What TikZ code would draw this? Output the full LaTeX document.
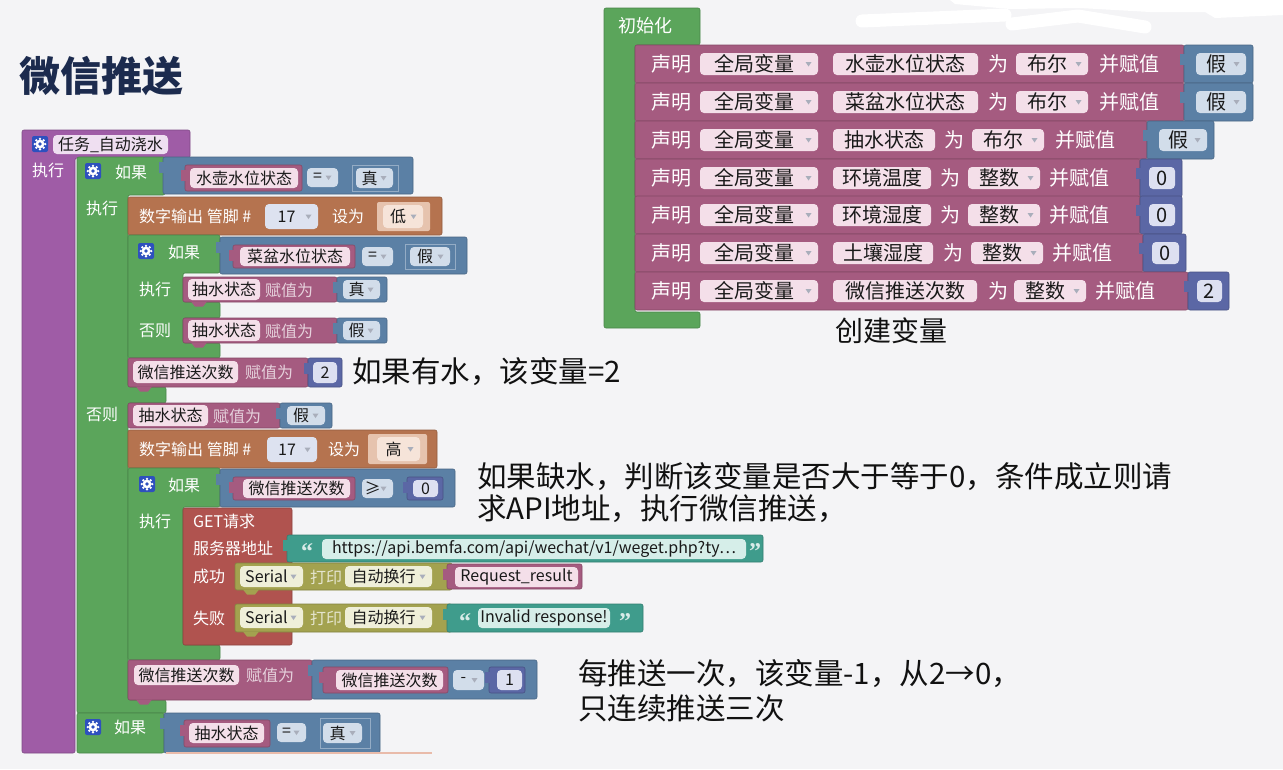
\documentclass[tikz,border=0pt]{standalone}
\usepackage{fontspec}
\setmainfont{Noto Sans CJK SC}
\newfontfamily\quotefont{Liberation Serif}
\usetikzlibrary{calc}

\definecolor{bgcol}{HTML}{F4F4F6}
\definecolor{cpurple}{HTML}{9F5CA6}
\definecolor{cgreen}{HTML}{5BA55B}
\definecolor{cblue}{HTML}{5B80A5}
\definecolor{cpink}{HTML}{A55B80}
\definecolor{cbrown}{HTML}{B5734F}
\definecolor{cget}{HTML}{B0534F}
\definecolor{cteal}{HTML}{3F9C8C}
\definecolor{colive}{HTML}{A3A24F}
\definecolor{cnum}{HTML}{5B67A5}
\definecolor{cgear}{HTML}{2E50BE}
\definecolor{ctitle}{HTML}{1C2B4E}
\definecolor{fpink}{HTML}{F4DFE9}
\definecolor{fblue}{HTML}{D2DDEA}
\definecolor{fbrown}{HTML}{F6E4D9}
\definecolor{sbrown}{HTML}{E6C3AE}
\definecolor{fnum}{HTML}{DDE0F1}
\definecolor{folive}{HTML}{EFEFD9}
\definecolor{fteal}{HTML}{D6EEE9}
\definecolor{fpurple}{HTML}{EFDFF1}
\definecolor{fpin}{HTML}{DDE2F0}
\definecolor{arrowcol}{HTML}{A9AEBB}
\definecolor{notecol}{HTML}{111111}
\definecolor{salmonline}{HTML}{E9BBAA}

\newcommand{\blockfont}{\fontsize{16}{18}\selectfont}
\newcommand{\fieldfont}{\fontsize{16}{18}\selectfont}
\newcounter{lbl}

% white label on a block
\newcommand{\blocklabel}[4][wlab]{\stepcounter{lbl}\node[#1] (t\arabic{lbl}) at (#2,#3) {#4};}
% editable field: x1 y1 x2 y2 fill text
\newcommand{\plainfield}[6]{%
  \path[fld=#5] (#1,#2) rectangle (#3,#4);
  \stepcounter{lbl}\node[flab] (t\arabic{lbl}) at ($(#1,#2)!0.5!(#3,#4)$) {#6};}
% dropdown field with its small triangle
\newcommand{\dropfield}[6]{%
  \path[fld=#5] (#1,#2) rectangle (#3,#4);
  \stepcounter{lbl}\node[flab] (t\arabic{lbl}) at ($(#1,#2)!0.5!(#3,#4)+(-5,0)$) {#6};
  \fill[arrowcol] ($(#3,#2)!0.5!(#3,#4)+(-12.5,-2)$) -- ++(6,0) -- ++(-3,4.5) -- cycle;}
% gear badge of a mutator block
\newcommand{\gearicon}[2]{%
  \fill[cgear, rounded corners=2pt] ($(#1,#2)+(-8,-8)$) rectangle ($(#1,#2)+(8,8)$);
  \fill[white] (#1,#2) circle (4.4pt);
  \foreach \a in {0,45,...,315} \fill[white] ($(#1,#2)+(\a:5.2pt)$) circle (1.3pt);
  \fill[cgear] (#1,#2) circle (1.8pt);}
% output tab on the left edge of a value block
\newcommand{\intab}[3]{\fill[#3] ($(#1,#2)+(-4,5)$) rectangle ($(#1,#2)+(1,16)$);}
% next-statement notch below a statement block
\newcommand{\notchat}[3]{\fill[#3] ($(#1,#2)+(8,-0.5)$) -- ++(4,5) -- ++(8,0) -- ++(4,-5) -- cycle;}
% one "declare global variable" row
\newcommand{\declrow}[9]{%
  \path[blk=cpink] (635,#1) rectangle (#2,#1+38);
  \blocklabel{651}{#1+19}{声明}
  \dropfield{700}{#1+8}{818}{#1+30}{fpink}{全局变量}
  \plainfield{833}{#1+8}{#4}{#1+30}{fpink}{#3}
  \blocklabel{#5}{#1+19}{为}
  \dropfield{#7}{#1+8}{#8}{#1+30}{fpink}{#6}
  \blocklabel{#9}{#1+19}{并赋值}}
\newcommand{\boolval}[3]{%
  \path[blk=cblue] (#2,#1) rectangle (#3,#1+38);
  \intab{#2}{#1+4}{cblue}
  \dropfield{#2+12}{#1+8}{#3-7}{#1+30}{fblue}{假}}
\newcommand{\numval}[4]{%
  \path[blk=cnum] (#2,#1) rectangle (#3,#1+38);
  \intab{#2}{#1+4}{cnum}
  \plainfield{#2+9}{#1+8}{#3-7}{#1+30}{fnum}{#4}}

\begin{document}
\begin{tikzpicture}[x=1pt,y=-1pt,
  blk/.style={fill=#1, draw=#1!80!black, line width=0.6pt, rounded corners=2pt},
  fld/.style={fill=#1, rounded corners=4pt},
  wlab/.style={text=white, inner sep=0pt, anchor=west, font=\blockfont},
  flab/.style={text=black!90, inner sep=0pt, font=\fieldfont},
  pale/.style={text=white!72!#1, inner sep=0pt, anchor=west, font=\blockfont},
  note/.style={text=notecol, inner sep=0pt, anchor=west, font=\fontsize{29.5}{32}\selectfont},
  quotemark/.style={text=white!80!cteal, inner sep=0pt, font=\quotefont\bfseries\fontsize{24}{24}\selectfont}]
\useasboundingbox (0,0) rectangle (1283,769);
\fill[bgcol] (0,0) rectangle (1283,769);

% white marker strokes along the top edge
\fill[white] (950,0) -- (1283,0) -- (1283,15) -- (1215,18) -- (1205,12) -- (1150,12) -- (1080,8) -- (1010,9) -- (955,4) -- cycle;
\draw[white, line width=13pt, line cap=round, line join=round] (862,21) -- (1005,15);
\draw[white, line width=13pt, line cap=round, line join=round] (1012,24) -- (1078,16) -- (1145,27);

% title
\node[anchor=west, inner sep=0pt, text=ctitle, font=\fontsize{41}{44}\selectfont\bfseries] (title) at (19,76) {微信推送};

% ---------------- task block ----------------
\path[blk=cpurple] (22,130) -- (190,130) -- (190,158) -- (75,158) -- (75,753) -- (22,753) -- cycle;
\gearicon{40}{144}
\plainfield{53}{135}{168}{154}{fpurple}{任务\_自动浇水}
\blocklabel{32}{170}{执行}

% outer if / else
\path[blk=cgreen] (77,157) -- (165,157) -- (165,195) -- (128,195) -- (128,387) -- (166,387) -- (166,403) -- (128,403) -- (128,700) -- (166,700) -- (166,713) -- (77,713) -- cycle;
\gearicon{93}{171}
\blocklabel{115}{172}{如果}
\blocklabel{86}{208}{执行}
\blocklabel{86}{414}{否则}

\path[blk=cblue] (163,157) rectangle (413,194);
\intab{163}{157}{cblue}
\path[blk=cpink] (185,165) rectangle (302,191);
\intab{185}{165}{cpink}
\plainfield{190}{168}{298}{188}{fpink}{水壶水位状态}
\dropfield{307}{168}{338}{187}{fblue}{=}
\path[draw=white!35!cblue, line width=0.6pt] (352,165) rectangle (398,191);
\dropfield{356}{168}{393}{188}{fblue}{真}

% digital write, low
\path[blk=cbrown] (128,197) rectangle (442,235);
\blocklabel{139}{216}{数字输出 管脚 \#}
\dropfield{265}{204}{318}{229}{fpin}{17}
\blocklabel{332}{216}{设为}
\path[fill=sbrown, rounded corners=2pt] (377,202) rectangle (430,231);
\dropfield{383}{205}{423}{228}{fbrown}{低}

% inner if / else (pump)
\path[blk=cgreen] (128,235) -- (220,235) -- (220,273) -- (183,273) -- (183,302) -- (220,302) -- (220,318) -- (183,318) -- (183,343) -- (220,343) -- (220,358) -- (128,358) -- cycle;
\gearicon{146}{251}
\blocklabel{168}{252}{如果}
\blocklabel{139}{289}{执行}
\blocklabel{139}{330}{否则}
\path[blk=cblue] (220,237) rectangle (467,274);
\intab{220}{237}{cblue}
\path[blk=cpink] (233,245) rectangle (355,268);
\intab{233}{245}{cpink}
\plainfield{240}{247}{350}{266}{fpink}{菜盆水位状态}
\dropfield{362}{247}{393}{266}{fblue}{=}
\path[draw=white!35!cblue, line width=0.6pt] (405,244) rectangle (455,269);
\dropfield{410}{247}{450}{266}{fblue}{假}

\path[blk=cpink] (183,277) rectangle (337,302);
\plainfield{188}{279}{260}{300}{fpink}{抽水状态}
\blocklabel[pale=cpink]{265}{290}{赋值为}
\path[blk=cblue] (337,277) rectangle (387,302);
\intab{337}{277}{cblue}
\dropfield{343}{280}{380}{299}{fblue}{真}
\notchat{183}{302}{cpink}

\path[blk=cpink] (183,318) rectangle (337,343);
\plainfield{188}{320}{260}{341}{fpink}{抽水状态}
\blocklabel[pale=cpink]{265}{331}{赋值为}
\path[blk=cblue] (337,318) rectangle (387,343);
\intab{337}{318}{cblue}
\dropfield{343}{321}{380}{340}{fblue}{假}
\notchat{183}{343}{cpink}

% push counter := 2
\path[blk=cpink] (128,358) rectangle (308,387);
\plainfield{133}{361}{238}{383}{fpink}{微信推送次数}
\blocklabel[pale=cpink]{245}{372}{赋值为}
\path[blk=cnum] (308,358) rectangle (342,387);
\intab{308}{358}{cnum}
\plainfield{313}{362}{337}{383}{fnum}{2}
\notchat{128}{387}{cpink}

% ---------------- else branch ----------------
\path[blk=cpink] (128,403) rectangle (280,428);
\plainfield{133}{405}{208}{426}{fpink}{抽水状态}
\blocklabel[pale=cpink]{213}{416}{赋值为}
\path[blk=cblue] (280,403) rectangle (332,428);
\intab{280}{403}{cblue}
\dropfield{287}{406}{325}{425}{fblue}{假}

\path[blk=cbrown] (128,430) rectangle (437,468);
\blocklabel{139}{449}{数字输出 管脚 \#}
\dropfield{267}{437}{317}{462}{fpin}{17}
\blocklabel{328}{449}{设为}
\path[fill=sbrown, rounded corners=2pt] (368,434) rectangle (427,464);
\dropfield{377}{437}{420}{461}{fbrown}{高}

% inner if (push count check)
\path[blk=cgreen] (128,468) -- (220,468) -- (220,507) -- (183,507) -- (183,645) -- (220,645) -- (220,660) -- (128,660) -- cycle;
\gearicon{147}{484}
\blocklabel{168}{485}{如果}
\blocklabel{139}{521}{执行}
\path[blk=cblue] (220,469) rectangle (455,507);
\intab{220}{469}{cblue}
\path[blk=cpink] (233,477) rectangle (355,500);
\intab{233}{477}{cpink}
\plainfield{243}{479}{350}{498}{fpink}{微信推送次数}
\dropfield{362}{479}{393}{498}{fblue}{≥}
\path[blk=cnum] (407,477) rectangle (443,500);
\intab{407}{477}{cnum}
\plainfield{413}{480}{438}{497}{fnum}{0}

% GET request
\path[blk=cget] (183,508) rectangle (292,645);
\blocklabel{193}{521}{GET请求}
\blocklabel{193}{548}{服务器地址}
\blocklabel{193}{576}{成功}
\blocklabel{193}{618}{失败}

\path[blk=cteal] (287,535) rectangle (763,562);
\intab{287}{535}{cteal}
\node[quotemark] (q1) at (307,552) {“};
\plainfield{322}{539}{746}{559}{fteal}{https://api.bemfa.com/api/wechat/v1/weget.php?ty…}
\node[quotemark] (q2) at (755,552) {”};

\path[blk=colive] (235,563) rectangle (452,590);
\dropfield{240}{566}{303}{587}{folive}{Serial}
\blocklabel[pale=colive]{310}{577}{打印}
\dropfield{345}{566}{432}{587}{folive}{自动换行}
\path[blk=cpink] (447,564) rectangle (582,589);
\intab{447}{564}{cpink}
\plainfield{455}{567}{578}{587}{fpink}{Request\_result}
\notchat{235}{590}{colive}

\path[blk=colive] (235,604) rectangle (452,632);
\dropfield{240}{607}{303}{628}{folive}{Serial}
\blocklabel[pale=colive]{310}{618}{打印}
\dropfield{345}{607}{432}{628}{folive}{自动换行}
\path[blk=cteal] (447,604) rectangle (643,632);
\intab{447}{604}{cteal}
\node[quotemark] (q3) at (465,622) {“};
\plainfield{478}{608}{610}{628}{fteal}{Invalid response!}
\node[quotemark] (q4) at (625,622) {”};
\notchat{235}{632}{colive}

% push counter := push counter - 1
\path[blk=cpink] (128,660) rectangle (312,700);
\plainfield{134}{665}{239}{685}{fpink}{微信推送次数}
\blocklabel[pale=cpink]{246}{675}{赋值为}
\path[blk=cblue] (312,660) rectangle (537,699);
\intab{312}{660}{cblue}
\path[blk=cpink] (323,667) rectangle (448,693);
\intab{323}{667}{cpink}
\plainfield{336}{670}{443}{690}{fpink}{微信推送次数}
\dropfield{453}{670}{484}{690}{fblue}{-}
\path[blk=cnum] (489,667) rectangle (525,693);
\intab{489}{667}{cnum}
\plainfield{497}{670}{522}{690}{fnum}{1}
\notchat{128}{700}{cpink}

% next if, cut at the bottom
\path[blk=cgreen] (77,713) rectangle (164,753);
\gearicon{93}{727}
\blocklabel{114}{727}{如果}
\path[blk=cblue] (164,713) rectangle (380,753);
\intab{164}{713}{cblue}
\path[blk=cpink] (184,720) rectangle (270,747);
\intab{184}{720}{cpink}
\plainfield{189}{723}{264}{743}{fpink}{抽水状态}
\dropfield{277}{723}{306}{742}{fblue}{=}
\path[draw=white!35!cblue, line width=0.6pt] (320,718) rectangle (370,748);
\dropfield{323}{723}{362}{743}{fblue}{真}
\draw[salmonline, line width=1.5pt] (166,753) -- (432,753);

% ---------------- setup block ----------------
\path[blk=cgreen] (604,8) -- (700,8) -- (700,45) -- (635,45) -- (635,312) -- (700,312) -- (700,328) -- (604,328) -- cycle;
\renewcommand{\blockfont}{\fontsize{18}{20}\selectfont}
\blocklabel{618}{26}{初始化}
\renewcommand{\blockfont}{\fontsize{20}{22}\selectfont}
\renewcommand{\fieldfont}{\fontsize{20}{22}\selectfont}

\declrow{45}{1184}{水壶水位状态}{978}{988}{布尔}{1016}{1088}{1099}
\boolval{45}{1184}{1253}
\declrow{83}{1184}{菜盆水位状态}{978}{988}{布尔}{1016}{1088}{1099}
\boolval{83}{1184}{1253}
\declrow{121}{1147}{抽水状态}{935}{944}{布尔}{972}{1044}{1055}
\boolval{121}{1147}{1214}
\declrow{159}{1140}{环境温度}{931}{940}{整数}{968}{1040}{1049}
\numval{159}{1140}{1182}{0}
\declrow{196}{1140}{环境湿度}{931}{940}{整数}{968}{1040}{1049}
\numval{196}{1140}{1182}{0}
\declrow{234}{1143}{土壤湿度}{933}{943}{整数}{971}{1043}{1052}
\numval{234}{1143}{1186}{0}
\declrow{272}{1188}{微信推送次数}{977}{988}{整数}{1014}{1086}{1095}
\numval{272}{1188}{1229}{2}

% ---------------- notes ----------------
\node[note, font=\fontsize{28}{30}\selectfont] (n1) at (835,331) {创建变量};
\node[note] (n2) at (352,372) {如果有水，该变量=2};
\node[note] (n3) at (477,477) {如果缺水，判断该变量是否大于等于0，条件成立则请};
\node[note] (n4) at (477,509) {求API地址，执行微信推送，};
\node[note] (n5) at (578,674) {每推送一次，该变量-1，从2→0，};
\node[note] (n6) at (578,708) {只连续推送三次};
\end{tikzpicture}
\end{document}
